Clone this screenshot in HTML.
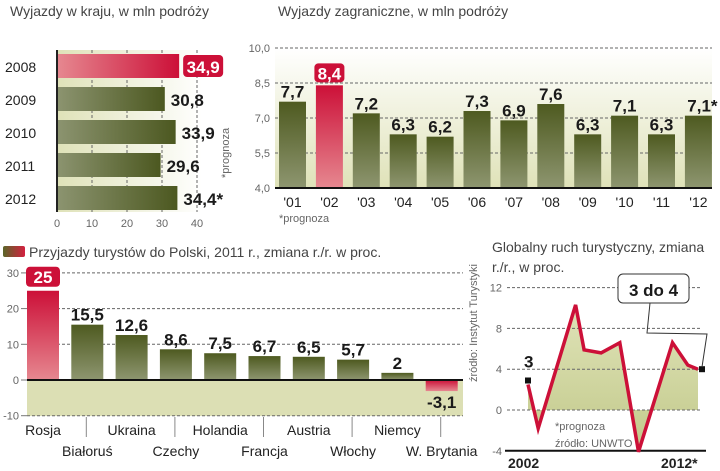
<!DOCTYPE html>
<html><head><meta charset="utf-8">
<style>
html,body{margin:0;padding:0;background:#fff;}
svg{display:block;font-family:"Liberation Sans",sans-serif;}
.t{fill:#444;font-size:14px;}
.ax{fill:#666;font-size:11px;}
.v{font-family:"Liberation Sans Narrow","Liberation Sans",sans-serif;font-weight:bold;font-size:17px;fill:#1a1a1a;}
.cat{fill:#222;font-size:14px;}
.grid{stroke:#666;stroke-width:1;stroke-dasharray:3,2;}
</style></head>
<body>
<svg id="chart" width="720" height="471" viewBox="0 0 720 471">
<defs>
<linearGradient id="olH" x1="0" x2="1" y1="0" y2="0"><stop offset="0" stop-color="#8c9470"/><stop offset="1" stop-color="#4c5820"/></linearGradient>
<linearGradient id="redH" x1="0" x2="1" y1="0" y2="0"><stop offset="0" stop-color="#e68890"/><stop offset="1" stop-color="#cc1038"/></linearGradient>
<linearGradient id="olV" x1="0" x2="0" y1="0" y2="1"><stop offset="0" stop-color="#4e5a20"/><stop offset="1" stop-color="#8e9670"/></linearGradient>
<linearGradient id="redV" x1="0" x2="0" y1="0" y2="1"><stop offset="0" stop-color="#cc1038"/><stop offset="1" stop-color="#e68890"/></linearGradient>
<linearGradient id="bgV" x1="0" x2="0" y1="0" y2="1"><stop offset="0" stop-color="#ffffff"/><stop offset="1" stop-color="#dfe2b8"/></linearGradient>
<linearGradient id="bgH" x1="0" x2="1" y1="0" y2="0"><stop offset="0" stop-color="#dfe2b8"/><stop offset="1" stop-color="#ffffff"/></linearGradient>
<linearGradient id="legG" x1="0" x2="1"><stop offset="0" stop-color="#5a6628"/><stop offset="1" stop-color="#d42040"/></linearGradient>
<linearGradient id="areaG" x1="0" x2="0" y1="0" y2="1"><stop offset="0" stop-color="#dfe3b8"/><stop offset="1" stop-color="#c2c98a"/></linearGradient>
</defs>
<g id="c1"></g>
<g id="c2"></g>
<g id="c3"></g>
<g id="c4"></g>
</svg>
<script>
// Chart 1: domestic trips
const domYears = ["2008","2009","2010","2011","2012"];
const domValues = [34.9, 30.8, 33.9, 29.6, 34.4];
const domLabels = ["34,9","30,8","33,9","29,6","34,4*"];
const domTicks = [0,10,20,30,40];
// Chart 2: foreign trips
const forYears = ["'01","'02","'03","'04","'05","'06","'07","'08","'09","'10","'11","'12"];
const forValues = [7.7,8.4,7.2,6.3,6.2,7.3,6.9,7.6,6.3,7.1,6.3,7.1];
const forLabels = ["7,7","8,4","7,2","6,3","6,2","7,3","6,9","7,6","6,3","7,1","6,3","7,1*"];
const forTicks = [4.0,5.5,7.0,8.5,10.0];
const forTickLabels = ["4,0","5,5","7,0","8,5","10,0"];
// Chart 3: arrivals
const arrCountries = ["Rosja","Białoruś","Ukraina","Czechy","Holandia","Francja","Austria","Włochy","Niemcy","W. Brytania"];
const arrValues = [25,15.5,12.6,8.6,7.5,6.7,6.5,5.7,2,-3.1];
const arrLabels = ["25","15,5","12,6","8,6","7,5","6,7","6,5","5,7","2","-3,1"];
const arrTicks = [-10,0,10,20,30];
// Chart 4: global tourism
const globYears = [2002,2002.6,2004.8,2005.3,2006.3,2007.4,2008.5,2010.5,2011.4,2012];
const globValues = [2.5,-1.8,10.3,5.9,5.6,6.6,-4.1,6.6,4.4,4.0];
const globTicks = [-4,0,4,8,12];

const NS="http://www.w3.org/2000/svg";
function mk(parent,tag,attrs,text){const e=document.createElementNS(NS,tag);for(const k in attrs)e.setAttribute(k,attrs[k]);if(text!==undefined)e.textContent=text;parent.appendChild(e);return e;}

// ---------- chart 1
(function(){
const g=document.getElementById('c1');
const x=v=>57+v*3.5;
const rowY=i=>54+i*33;
let t=mk(g,'text',{x:10,y:16,class:'t'},'Wyjazdy w kraju, w mln  podróży');


mk(g,'rect',{x:57,y:50,width:145,height:162,fill:'url(#bgH)'});
domTicks.forEach(v=>{
  if(v>0){const l=mk(g,'line',{x1:x(v),x2:x(v),y1:50,y2:212,class:'grid'});
  
  }
  const tl=mk(g,'text',{x:x(v),y:227,class:'ax','text-anchor':'middle'},String(v));
  
  
});
domValues.forEach((v,i)=>{
  const y=rowY(i);
  const b=mk(g,'rect',{x:57,y:y,width:x(v)-57,height:24,fill:i===0?'url(#redH)':'url(#olH)'});
  
  
  const yl=mk(g,'text',{x:5,y:y+18,class:'cat','font-size':'15'},domYears[i]);
  
  
  if(i===0){
    const w=40;
    const bx=mk(g,'rect',{x:x(v)+4,y:y+1,width:w,height:22,rx:4,fill:'#cc1038'});
    
    
    const vl=mk(g,'text',{x:x(v)+4+w/2,y:y+19,class:'v','text-anchor':'middle',style:'fill:#fff'},domLabels[i]);
    
    
  } else {
    const vl=mk(g,'text',{x:x(v)+6,y:y+19,class:'v'},domLabels[i]);
    
    
  }
});
mk(g,'line',{x1:57,x2:57,y1:50,y2:212,stroke:'#222','stroke-width':2});
const p=mk(g,'text',{x:0,y:0,class:'ax',transform:'translate(229,178) rotate(-90)'},'*prognoza');


})();

// ---------- chart 2
(function(){
const g=document.getElementById('c2');
const y=v=>188-(v-4)*23.33;
const cx=i=>292.5+i*36.9;
let t=mk(g,'text',{x:278,y:16,class:'t'},'Wyjazdy zagraniczne, w mln podróży');


mk(g,'rect',{x:275,y:48,width:437,height:140,fill:'url(#bgV)'});
forTicks.forEach((v,i)=>{
  const l=mk(g,'line',{x1:275,x2:712,y1:y(v),y2:y(v),class:'grid'});
  
  
  const tl=mk(g,'text',{x:270,y:y(v)+4,class:'ax','text-anchor':'end'},forTickLabels[i]);
  
  
});
forValues.forEach((v,i)=>{
  const b=mk(g,'rect',{x:cx(i)-13.5,y:y(v),width:27,height:188-y(v),fill:i===1?'url(#redV)':'url(#olV)'});
  
  
  if(i===1){
    const bx=mk(g,'rect',{x:cx(i)-15,y:y(v)-22,width:30,height:19,rx:4,fill:'#cc1038'});
    
    
    const vl=mk(g,'text',{x:cx(i),y:y(v)-6,class:'v','text-anchor':'middle',style:'fill:#fff'},forLabels[i]);
    
    
  } else {
    const vl=mk(g,'text',{x:cx(i)+(forLabels[i].length>3?4:0),y:y(v)-4,class:'v','text-anchor':'middle'},forLabels[i]);
    
    
  }
  const xl=mk(g,'text',{x:cx(i),y:207,class:'cat','text-anchor':'middle'},forYears[i]);
  
  
});
mk(g,'line',{x1:275,x2:712,y1:188,y2:188,stroke:'#111','stroke-width':2});
const p=mk(g,'text',{x:279,y:222,class:'ax'},'*prognoza');


})();

// ---------- chart 3
(function(){
const g=document.getElementById('c3');
const y=v=>380-v*3.57;
const cx=i=>43+i*44.3;
const lg=mk(g,'rect',{x:3,y:246,width:22,height:11,rx:2,fill:'url(#legG)'});


let t=mk(g,'text',{x:29,y:257,class:'t'},'Przyjazdy turystów do Polski, 2011 r., zmiana r./r. w proc.');


mk(g,'rect',{x:27,y:380,width:436,height:36,fill:'#dcdfb4'});
arrTicks.forEach(v=>{
  const l=mk(g,'line',{x1:27,x2:463,y1:y(v),y2:y(v),class:'grid'});
  
  
  mk(g,'line',{x1:21,x2:27,y1:y(v),y2:y(v),stroke:'#777'});
  const tl=mk(g,'text',{x:19,y:y(v)+4,class:'ax','text-anchor':'end'},String(v));
  
  
});
arrValues.forEach((v,i)=>{
  const neg=v<0, red=(i===0||neg);
  const top=Math.min(y(v),y(0)), h=Math.abs(y(v)-y(0));
  const b=mk(g,'rect',{x:cx(i)-16,y:top,width:32,height:h,fill:red?'url(#redV)':'url(#olV)'});
  
  
  if(i===0){
    const bx=mk(g,'rect',{x:cx(i)-17,y:y(v)-24,width:34,height:20,rx:4,fill:'#cc1038'});
    
    
    const vl=mk(g,'text',{x:cx(i),y:y(v)-8,class:'v','text-anchor':'middle',style:'fill:#fff'},arrLabels[i]);
    
    
  } else {
    const vl=mk(g,'text',{x:cx(i),y:neg?y(v)+17:y(v)-4,class:'v','text-anchor':'middle'},arrLabels[i]);
    
    
  }
  const cl=mk(g,'text',{x:cx(i),y:i%2===0?435:456,class:'cat','text-anchor':'middle'},arrCountries[i]);
  
  
  if(i%2===1){
    const sp=mk(g,'line',{x1:cx(i)-1,x2:cx(i)-1,y1:417,y2:437,stroke:'#888'});
    
    
  }
});
mk(g,'line',{x1:27,x2:463,y1:380,y2:380,stroke:'#111','stroke-width':2});
const s=mk(g,'text',{x:0,y:0,class:'ax',transform:'translate(477,382) rotate(-90)'},'źródło: Instytut Turystyki');


})();

// ---------- chart 4
(function(){
const g=document.getElementById('c4');
const x=yr=>528+(yr-2002)*17;
const y=v=>410-v*10.2;
let t=mk(g,'text',{x:492,y:252,class:'t'},'Globalny ruch turystyczny, zmiana');


mk(g,'text',{x:492,y:272,class:'t'},'r./r., w proc.');
let d='M'+x(globYears[0])+','+y(0);
globYears.forEach((yr,i)=>{d+=' L'+x(yr)+','+y(globValues[i]);});
d+=' L'+x(globYears[globYears.length-1])+','+y(0)+' Z';
const a=mk(g,'path',{d:d,fill:'url(#areaG)',stroke:'none'});


globTicks.forEach(v=>{
  if(v>-4){const l=mk(g,'line',{x1:507,x2:700,y1:y(v),y2:y(v),class:'grid'});
  
  }
  const tl=mk(g,'text',{x:502,y:y(v)+4,class:'ax','text-anchor':'end'},String(v));
  
  
});
mk(g,'line',{x1:505,x2:706,y1:y(-4),y2:y(-4),stroke:'#111','stroke-width':2});
const pts=globYears.map((yr,i)=>x(yr)+','+y(globValues[i])).join(' ');
const ln=mk(g,'polyline',{points:pts,fill:'none',stroke:'#cc1038','stroke-width':3.5,'stroke-linejoin':'miter'});


const last=globYears.length-1;
const m1=mk(g,'rect',{x:x(globYears[0])-3,y:y(globValues[0])-7,width:6,height:6,fill:'#111'});


const m2=mk(g,'rect',{x:x(globYears[last])+1,y:y(globValues[last])-3,width:6,height:6,fill:'#111'});


const s3=mk(g,'text',{x:x(globYears[0])-4,y:y(globValues[0])-17,class:'v','font-size':'20'},'3');


const cl=mk(g,'polyline',{points:'650,303 647,333 707,334 702,367',fill:'none',stroke:'#333','stroke-width':1});


const cb=mk(g,'rect',{x:618,y:274,width:71,height:29,rx:5,fill:'#fff',stroke:'#333'});


const ct=mk(g,'text',{x:653.5,y:296,class:'v','font-size':'21','text-anchor':'middle'},'3 do 4');


mk(g,'text',{x:555,y:430,class:'ax','font-size':'12'},'*prognoza');
const src=mk(g,'text',{x:555,y:447,class:'ax','font-size':'12'},'źródło: UNWTO');


const x1=mk(g,'text',{x:508,y:468,class:'cat','font-weight':'bold'},'2002');


const x2=mk(g,'text',{x:661,y:468,class:'cat','font-weight':'bold'},'2012*');


})();
</script>
</body></html>
